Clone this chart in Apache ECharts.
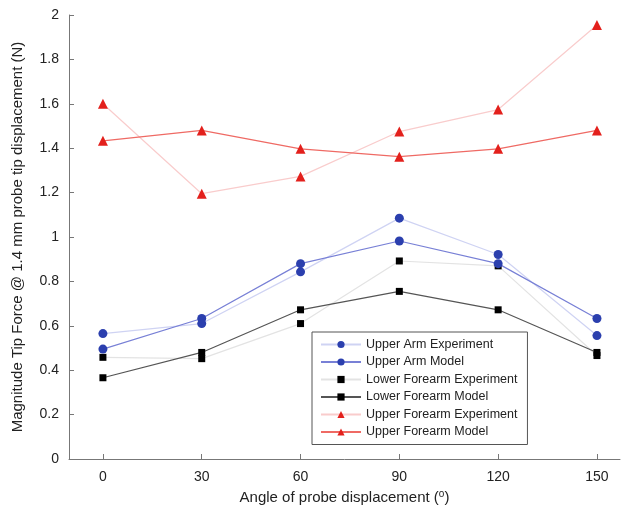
<!DOCTYPE html>
<html>
<head>
<meta charset="utf-8">
<script src="https://cdn.jsdelivr.net/npm/echarts@6/dist/echarts.min.js"></script>
<style>
  html, body { margin: 0; padding: 0; background: #fff; }
  #chart { width: 626px; height: 511px; }
</style>
</head>
<body>
<div id="chart"></div>
<script>
// angles of probe displacement (degrees)
const angles = [0, 30, 60, 90, 120, 150];

// tip force magnitudes (N)
const upperArmExp = [0.565, 0.61, 0.843, 1.085, 0.921, 0.556];
const upperArmModel = [0.495, 0.633, 0.88, 0.982, 0.88, 0.633];
const lowerForearmExp = [0.458, 0.452, 0.61, 0.892, 0.87, 0.466];
const lowerForearmModel = [0.366, 0.48, 0.672, 0.755, 0.672, 0.48];
const upperForearmExp = [1.6, 1.195, 1.273, 1.475, 1.574, 1.955];
const upperForearmModel = [1.433, 1.48, 1.397, 1.362, 1.397, 1.48];

const xTicks = [0, 30, 60, 90, 120, 150];

const pairs = vals => angles.map((a, i) => [a, vals[i]]);

const chart = echarts.init(document.getElementById('chart'));

function mkSeries(name, vals, symbol, size, lineColor, markColor, z) {
  return {
    name: name,
    type: 'line',
    data: pairs(vals),
    symbol: symbol,
    symbolSize: size,
    showAllSymbol: true,
    z: z,
    lineStyle: { color: lineColor, width: 1.2 },
    itemStyle: { color: markColor },
    emphasis: { disabled: true }
  };
}

chart.setOption({
  animation: false,
  grid: { left: 69, right: 6, top: 15, bottom: 52 },
  xAxis: {
    type: 'value',
    min: -10.3,
    max: 157,
    name: 'Angle of probe displacement ({sup|o})',
    nameLocation: 'middle',
    nameGap: 30,
    nameTextStyle: {
      fontFamily: 'Liberation Sans, Arial, sans-serif',
      fontSize: 15,
      color: '#222',
      rich: {
        sup: { fontSize: 10, verticalAlign: 'top', padding: [0, 0, 8, 0], color: '#222' }
      }
    },
    axisLine: { onZero: false, lineStyle: { color: '#777', width: 1 } },
    axisTick: { inside: true, length: 5, customValues: xTicks, lineStyle: { color: '#777' } },
    axisLabel: {
      customValues: xTicks,
      color: '#222',
      fontSize: 14,
      fontFamily: 'Liberation Sans, Arial, sans-serif',
      margin: 11
    },
    splitLine: { show: false }
  },
  yAxis: {
    type: 'value',
    min: 0,
    max: 2,
    interval: 0.2,
    name: 'Magnitude Tip Force @ 1.4 mm probe tip displacement (N)',
    nameLocation: 'middle',
    nameGap: 44,
    nameTextStyle: {
      fontFamily: 'Liberation Sans, Arial, sans-serif',
      fontSize: 15,
      color: '#222'
    },
    axisLine: { show: true, onZero: false, lineStyle: { color: '#777', width: 1 } },
    axisTick: { show: true, inside: true, length: 5, lineStyle: { color: '#777' } },
    axisLabel: {
      color: '#222',
      fontSize: 14,
      fontFamily: 'Liberation Sans, Arial, sans-serif',
      margin: 10
    },
    splitLine: { show: false }
  },
  legend: {
    orient: 'vertical',
    left: 312,
    top: 332,
    padding: [6, 10, 6, 8],
    itemGap: 4.5,
    itemWidth: 40,
    itemHeight: 9,
    borderColor: '#555',
    borderWidth: 1,
    borderRadius: 0,
    textStyle: {
      fontFamily: 'Liberation Sans, Arial, sans-serif',
      fontSize: 12.5,
      color: '#222'
    },
    data: [
      'Upper Arm Experiment',
      'Upper Arm Model',
      'Lower Forearm Experiment',
      'Lower Forearm Model',
      'Upper Forearm Experiment',
      'Upper Forearm Model'
    ]
  },
  series: [
    mkSeries('Upper Arm Experiment', upperArmExp, 'circle', 9, '#cfd3f3', '#2b3fae', 2),
    mkSeries('Upper Arm Model', upperArmModel, 'circle', 9, '#7880d6', '#2b3fae', 3),
    mkSeries('Lower Forearm Experiment', lowerForearmExp, 'rect', 7, '#e3e3e3', '#000', 2),
    mkSeries('Lower Forearm Model', lowerForearmModel, 'rect', 7, '#555', '#000', 3),
    mkSeries('Upper Forearm Experiment', upperForearmExp, 'triangle', 10, '#f9cccc', '#e3201c', 2),
    mkSeries('Upper Forearm Model', upperForearmModel, 'triangle', 10, '#ef6a64', '#e3201c', 3)
  ]
});
</script>
</body>
</html>
